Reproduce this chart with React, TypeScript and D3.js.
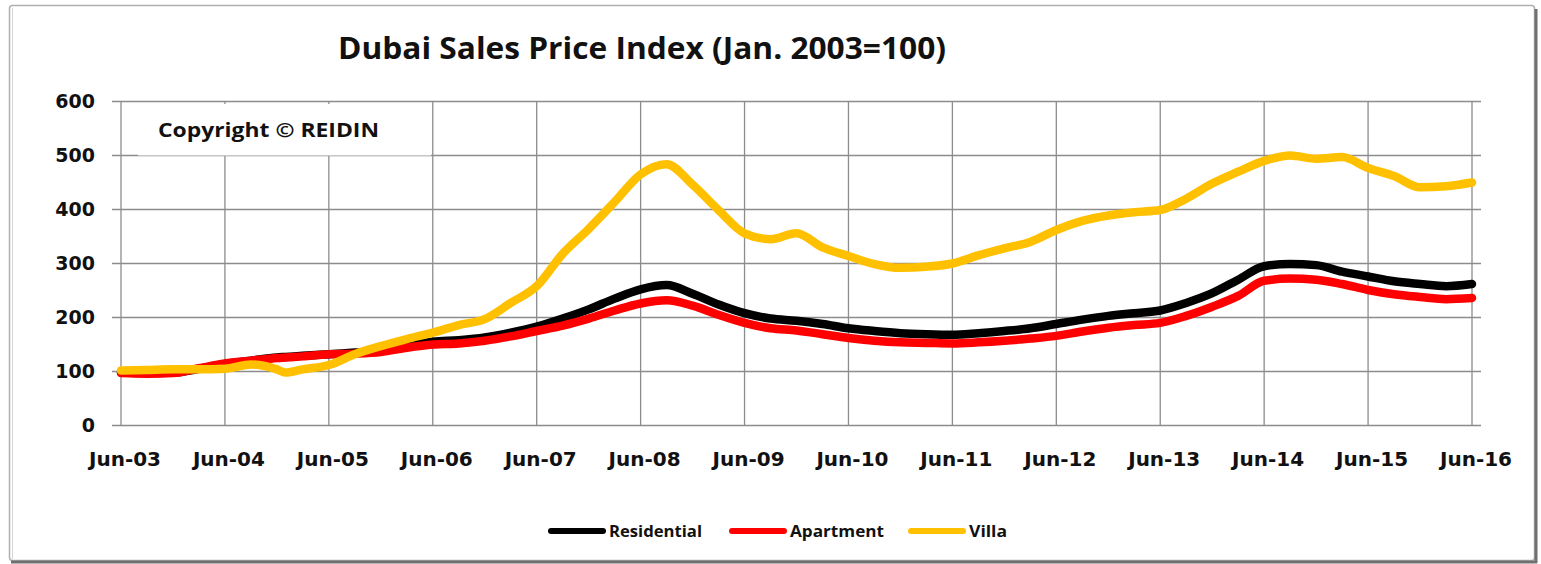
import React, { useEffect, useRef } from 'react';
import * as d3 from 'd3';

// months counted from Jun-03
const months = [0, 3, 6, 9, 12, 15, 18, 19, 21, 24, 27, 30, 33, 36, 39, 42, 45, 48, 51, 54, 57, 60, 63, 66, 69, 72, 75, 78, 81, 84, 87, 90, 93, 96, 99, 102, 105, 108, 111, 114, 117, 120, 123, 126, 129, 132, 135, 138, 141, 144, 147, 150, 153, 156];

const residential = [98, 97, 98, 105, 114, 120, 126, 127, 129, 132, 135, 138, 147, 155, 158, 163, 172, 183, 198, 215, 235, 252, 260, 244, 224, 208, 198, 194, 188, 180, 175, 171, 169, 168, 171, 175, 180, 188, 196, 203, 208, 213, 227, 245, 270, 295, 299, 297, 285, 276, 267, 262, 258, 262];
const apartment = [97, 96, 97, 106, 115, 120, 125, 126, 128, 132, 133, 136, 144, 150, 152, 157, 165, 175, 185, 198, 213, 226, 232, 222, 205, 190, 180, 176, 169, 162, 157, 154, 153, 152, 154, 157, 161, 166, 174, 181, 186, 190, 203, 220, 240, 268, 272, 270, 262, 251, 243, 238, 234, 236];
const villa = [102, 103, 104, 104, 105, 113, 104, 98, 104, 112, 132, 147, 160, 172, 186, 197, 227, 258, 318, 364, 414, 465, 484, 446, 399, 356, 345, 356, 330, 314, 299, 292, 294, 300, 315, 328, 340, 362, 379, 389, 395, 399, 420, 448, 470, 490, 500, 494, 497, 477, 462, 441, 443, 450];

const seriesNames = ['Residential', 'Apartment', 'Villa'];
const seriesColors = ['#000000', '#ff0000', '#ffc000'];

const yTicks = [0, 100, 200, 300, 400, 500, 600];
const xTickMonths = [0, 12, 24, 36, 48, 60, 72, 84, 96, 108, 120, 132, 144, 156];
const xTickLabels = ['Jun-03', 'Jun-04', 'Jun-05', 'Jun-06', 'Jun-07', 'Jun-08', 'Jun-09', 'Jun-10', 'Jun-11', 'Jun-12', 'Jun-13', 'Jun-14', 'Jun-15', 'Jun-16'];

export default function App() {
  const ref = useRef<SVGSVGElement>(null);

  useEffect(() => {
    const width = 1541;
    const height = 564;
    const svg = d3.select(ref.current);
    svg.selectAll('*').remove();

    // frame
    svg.append('rect').attr('width', width).attr('height', height).attr('fill', 'white');
    svg.append('rect')
      .attr('x', 9.5).attr('y', 5.5).attr('width', 1525).attr('height', 555).attr('rx', 3)
      .attr('fill', 'white').attr('stroke', '#b0b0b0').attr('stroke-width', 1.5);
    svg.append('line').attr('x1', 12.5).attr('x2', 12.5).attr('y1', 8).attr('y2', 559)
      .attr('stroke', '#d4d4d4').attr('stroke-width', 1);
    svg.append('line').attr('x1', 1536).attr('x2', 1536).attr('y1', 9).attr('y2', 563)
      .attr('stroke', '#707070').attr('stroke-width', 3);
    svg.append('line').attr('x1', 11).attr('x2', 1537).attr('y1', 562).attr('y2', 562)
      .attr('stroke', '#707070').attr('stroke-width', 3);

    const x = d3.scaleLinear().domain([0, 156]).range([121, 1472]);
    const y = d3.scaleLinear().domain([0, 600]).range([425.5, 101.5]);
    const gridLeft = 112;
    const gridRight = 1481;
    const tickFont = "'DejaVu Sans', Verdana, sans-serif";
    const labelFont = "'Open Sans', 'Noto Sans', sans-serif";

    // gridlines
    const grid = svg.append('g').attr('stroke', '#8c8c8c').attr('stroke-width', 1.3);
    grid.selectAll('line.h').data(yTicks).join('line')
      .attr('x1', gridLeft).attr('x2', gridRight)
      .attr('y1', d => y(d)).attr('y2', d => y(d));
    grid.selectAll('line.v').data(xTickMonths).join('line')
      .attr('x1', d => x(d)).attr('x2', d => x(d))
      .attr('y1', y(0)).attr('y2', y(600));

    // copyright box hides part of the grid
    svg.append('rect').attr('x', 138).attr('y', 104).attr('width', 293).attr('height', 51.5).attr('fill', 'white');
    svg.append('text')
      .attr('x', 158).attr('y', 137)
      .attr('font-family', labelFont).attr('font-weight', 'bold').attr('font-size', 20)
      .attr('textLength', 221).attr('lengthAdjust', 'spacingAndGlyphs')
      .attr('fill', '#111')
      .text('Copyright © REIDIN');

    // axis labels
    svg.append('g').selectAll('text').data(yTicks).join('text')
      .attr('x', 95).attr('y', d => y(d)).attr('dy', '0.36em')
      .attr('text-anchor', 'end')
      .attr('font-family', tickFont).attr('font-weight', 'bold').attr('font-size', 19)
      .attr('fill', '#111')
      .text(d => d);
    svg.append('g').selectAll('text').data(xTickMonths).join('text')
      .attr('x', d => x(d) + 4).attr('y', 466)
      .attr('text-anchor', 'middle')
      .attr('font-family', tickFont).attr('font-weight', 'bold').attr('font-size', 20)
      .attr('fill', '#111')
      .text((d, i) => xTickLabels[i]);

    // lines
    const allSeries = [residential, apartment, villa];
    const line = d3.line<number>()
      .x((d, i) => x(months[i]))
      .y(d => y(d))
      .curve(d3.curveMonotoneX);
    svg.append('g').selectAll('path').data(allSeries).join('path')
      .attr('d', d => line(d))
      .attr('fill', 'none')
      .attr('stroke', (d, i) => seriesColors[i])
      .attr('stroke-width', 8.5)
      .attr('stroke-linejoin', 'round')
      .attr('stroke-linecap', 'round');

    // title
    svg.append('text')
      .attr('x', 338).attr('y', 59)
      .attr('font-family', labelFont).attr('font-weight', 'bold').attr('font-size', 30)
      .attr('textLength', 608).attr('lengthAdjust', 'spacingAndGlyphs')
      .attr('fill', '#111')
      .text('Dubai Sales Price Index (Jan. 2003=100)');

    // legend
    const legendX = [551, 732, 911];
    const legendTextW = [93, 94, 38];
    const legend = svg.append('g');
    seriesNames.forEach((name, i) => {
      legend.append('line')
        .attr('x1', legendX[i]).attr('x2', legendX[i] + 52)
        .attr('y1', 531).attr('y2', 531)
        .attr('stroke', seriesColors[i]).attr('stroke-width', 6).attr('stroke-linecap', 'round');
      legend.append('text')
        .attr('x', legendX[i] + 58).attr('y', 537)
        .attr('font-family', labelFont).attr('font-weight', 'bold').attr('font-size', 16)
        .attr('textLength', legendTextW[i]).attr('lengthAdjust', 'spacingAndGlyphs')
        .attr('fill', '#111')
        .text(name);
    });
  }, []);

  return <svg ref={ref} width={1541} height={564} style={{ position: 'absolute', left: 0, top: 0 }} />;
}
